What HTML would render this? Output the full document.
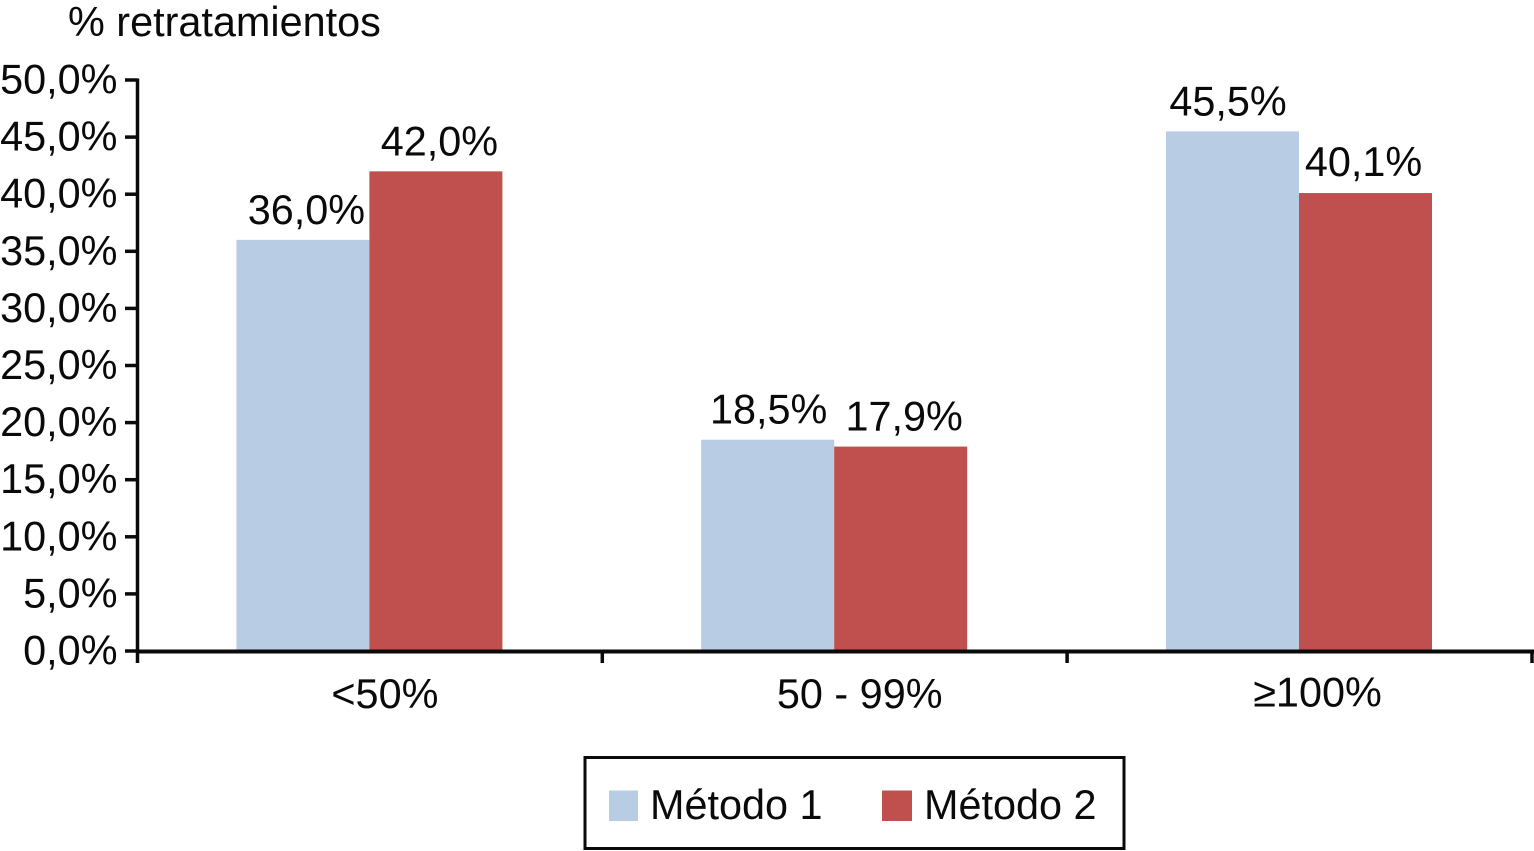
<!DOCTYPE html>
<html lang="es">
<head>
<meta charset="utf-8">
<title>% retratamientos</title>
<style>
html,body{margin:0;padding:0;background:#fff;width:1534px;height:851px;overflow:hidden}
svg{display:block}
text{font-family:"Liberation Sans",Arial,sans-serif;fill:#0a0a0a}
</style>
</head>
<body>
<svg id="chart" width="1534" height="851" viewBox="0 0 1534 851" xmlns="http://www.w3.org/2000/svg"></svg>
<script>
const categories = ['<50%', '50 - 99%', '≥100%'];
const seriesNames = ['Método 1', 'Método 2'];
const metodo1 = [36.0, 18.5, 45.5];
const metodo2 = [42.0, 17.9, 40.1];
const yTicks = [0, 5, 10, 15, 20, 25, 30, 35, 40, 45, 50];

const svg = document.getElementById('chart');
const NS = 'http://www.w3.org/2000/svg';
const FS = 41.4;
const INK = '#0a0a0a';
const fmt = v => v.toFixed(1).replace('.', ',') + '%';
const y = v => 651 - v * (651 - 80) / 50;
const catLeft = i => 137.5 + i * 464.8;
const catCenter = i => catLeft(i) + 232.4;
const barW = 133;

function valueNudge(s, i) {
  if (i === 2) return s === 0 ? -4.5 : -2;
  if (i === 1 && s === 0) return 1;
  return 3.5;
}
function categoryNudge(i) {
  return i === 0 ? 15 : (i === 1 ? 25 : 18);
}

function add(tag, attrs, txt) {
  const e = document.createElementNS(NS, tag);
  for (const k in attrs) e.setAttribute(k, attrs[k]);
  if (txt !== undefined) e.textContent = txt;
  svg.appendChild(e);
  return e;
}

let el = add('text', {x: 68, y: 36, 'font-size': FS}, '% retratamientos');



[metodo1, metodo2].forEach((vals, s) => {
  vals.forEach((v, i) => {
    const x = catCenter(i) - barW + s * barW - 0.5;
    const bar = add('rect', {x: x, y: y(v), width: barW, height: 651 - y(v), fill: s === 0 ? '#b8cce4' : '#c0504d'});
    
    
    const lab = add('text', {x: x + barW / 2 + valueNudge(s, i), y: y(v) - (s === 1 && i === 2 ? 17 : 16), 'font-size': FS, 'text-anchor': 'middle'}, fmt(v));
    
    
  });
});

el = add('line', {x1: 137.5, y1: 78.5, x2: 137.5, y2: 663, stroke: INK, 'stroke-width': 3.5});


el = add('line', {x1: 136, y1: 651.5, x2: 1534, y2: 651.5, stroke: INK, 'stroke-width': 4});



yTicks.forEach(t => {
  const tick = add('line', {x1: 125, y1: y(t), x2: 137.5, y2: y(t), stroke: INK, 'stroke-width': 3.5});
  
  
  const lab = add('text', {x: 117.5, y: y(t) + 13.5, 'font-size': FS, 'text-anchor': 'end'}, fmt(t));
  
  
});

categories.forEach((c, i) => {
  if (i > 0) {
    const tick = add('line', {x1: catLeft(i), y1: 651, x2: catLeft(i), y2: 663, stroke: INK, 'stroke-width': 3.5});
    
    
  }
  const lab = add('text', {x: catCenter(i) + categoryNudge(i), y: i === 2 ? 706.5 : 708, 'font-size': FS, 'text-anchor': 'middle'}, c);
  
  
});
el = add('line', {x1: 1532, y1: 651, x2: 1532, y2: 663, stroke: INK, 'stroke-width': 3.5});



el = add('rect', {x: 585, y: 757.5, width: 539, height: 91, fill: '#fff', stroke: INK, 'stroke-width': 3});


el = add('rect', {x: 609, y: 790.5, width: 29, height: 30.5, fill: '#b8cce4'});


el = add('text', {x: 650, y: 819, 'font-size': FS}, seriesNames[0]);


el = add('rect', {x: 882, y: 790.5, width: 30, height: 30.5, fill: '#c0504d'});


el = add('text', {x: 924, y: 819, 'font-size': FS}, seriesNames[1]);


</script>
</body>
</html>
